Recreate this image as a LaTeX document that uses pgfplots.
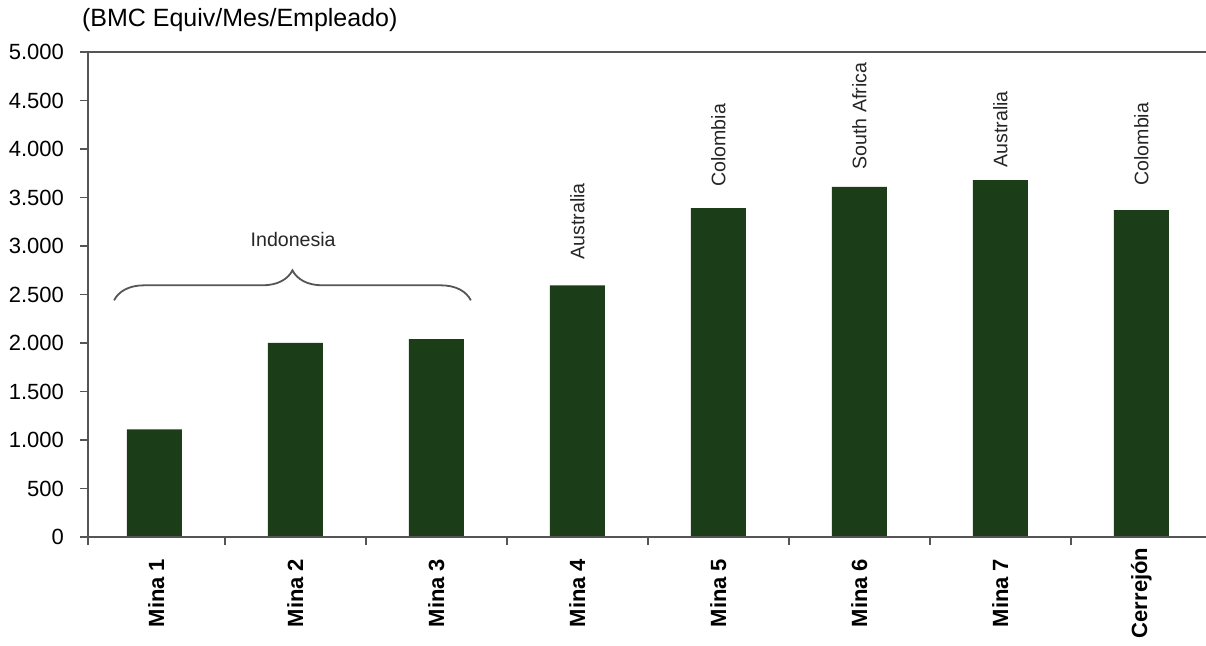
\documentclass[border=0pt]{standalone}
\usepackage{pgfplots}
\pgfplotsset{compat=1.18}
\usepackage{fontspec}
\setmainfont{Liberation Sans}
\usetikzlibrary{decorations.pathreplacing}
\definecolor{barg}{RGB}{27,62,24}
\definecolor{axg}{RGB}{85,85,85}

% x, valor, altura de la etiqueta, pais
\pgfplotstableread{
x y ly lab
0 1110 0 {}
1 2000 0 {}
2 2040 0 {}
3 2595 2856 Australia
4 3390 3608 Colombia
5 3610 3784 {South Africa}
6 3680 3804 Australia
7 3370 3619 Colombia
}\datos

\begin{document}
\begin{tikzpicture}
\begin{axis}[
  scale only axis,
  width=561.9pt, height=242.5pt,
  xmin=-0.47, xmax=7.5, ymin=0, ymax=5000,
  clip=false,
  axis line style={draw=none},
  tick pos=left, tick align=outside,
  major tick length=4pt,
  tick style={axg, line width=0.8pt},
  xtick={-0.47,0.5,1.5,2.5,3.5,4.5,5.5,6.5,7.5},
  x tick label as interval,
  xticklabels={Mina 1,Mina 2,Mina 3,Mina 4,Mina 5,Mina 6,Mina 7,Cerrejón},
  xticklabel style={font=\fontsize{11}{13}\selectfont\bfseries, anchor=center, yshift=-24pt, rotate=90},
  ytick={0,500,...,5000},
  yticklabel style={font=\fontsize{11}{13}\selectfont, xshift=-4.5pt},
  /pgf/number format/assume math mode=true,
  /pgf/number format/1000 sep={.},
]
\addplot[ybar, bar width=27.5pt, fill=barg, draw=none] table[x=x, y=y] {\datos};
\addplot[only marks, mark=none, nodes near coords, point meta=explicit symbolic,
  every node near coord/.append style={rotate=90, anchor=west, inner sep=0pt,
    font=\fontsize{9.8}{12}\selectfont, text=black!85}]
  table[x=x, y=ly, meta=lab] {\datos};

\draw[axg, line width=1pt] (rel axis cs:0,1) -- (rel axis cs:0,0) -- (rel axis cs:1,0);
\draw[axg, line width=1pt] (rel axis cs:0,1) -- (rel axis cs:1,1);
\draw[axg, line width=0.9pt, decorate, decoration={brace, amplitude=15pt}]
  (axis cs:-0.285,2440) -- (axis cs:2.245,2440);
\node[font=\fontsize{9.8}{12}\selectfont, text=black!85] at (axis cs:0.985,3070) {Indonesia};
\node[anchor=west, font=\fontsize{12.5}{14}\selectfont, xshift=-6.5pt, yshift=16pt]
  at (rel axis cs:0,1) {(BMC Equiv/Mes/Empleado)};
\end{axis}
\pgfresetboundingbox
\path (-44pt,-54.5pt) rectangle (559pt,268.5pt);
\end{tikzpicture}
\end{document}
